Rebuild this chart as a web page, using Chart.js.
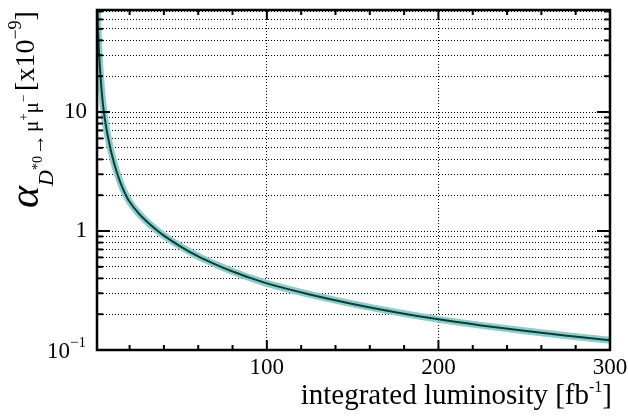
<!DOCTYPE html>
<html>
<head>
<meta charset="utf-8">
<script src="https://cdn.jsdelivr.net/npm/chart.js@4.4.1/dist/chart.umd.min.js"></script>
<style>
  html, body { margin: 0; padding: 0; background: #fff; }
  #wrap { width: 628px; height: 419px; }
</style>
</head>
<body>
<div id="wrap"><canvas id="chart" width="628" height="419"></canvas></div>
<script>
//------data
const lumi = [1, 1.5, 2, 3, 4, 5, 6, 7, 8, 9, 10, 11, 12, 14, 16, 18, 20, 25, 30, 35, 40, 50, 60, 70, 80, 90, 100, 125, 150, 175, 200, 225, 250, 275, 300];
const alphaUL = [90, 53, 35.5, 20.5, 13.5, 10, 8.0, 6.6, 5.6, 4.8, 4.2, 3.7, 3.3, 2.7, 2.28, 1.98, 1.76, 1.42, 1.2, 1.04, 0.915, 0.737, 0.613, 0.525, 0.457, 0.405, 0.363, 0.293, 0.244, 0.208, 0.181, 0.161, 0.145, 0.132, 0.121];

const xMajor = [100, 200, 300];
const xMinor = [20, 40, 60, 80, 120, 140, 160, 180, 220, 240, 260, 280];
const yMajor = [1, 10];
const yMinor = [0.2, 0.3, 0.4, 0.5, 0.6, 0.7, 0.8, 0.9, 2, 3, 4, 5, 6, 7, 8, 9, 20, 30, 40, 50, 60, 70];
const yLabels = [1, 10];

const SERIF = '"Liberation Serif", "DejaVu Serif", serif';

const points = lumi.map((x, i) => ({ x: x, y: alphaUL[i] }));

//------text pieces drawn along a baseline
function drawRuns(ctx, runs, x0, y0, rotate) {
    ctx.save();
    ctx.translate(x0, y0);
    if (rotate) ctx.rotate(-Math.PI / 2);
    ctx.fillStyle = '#000';
    ctx.textBaseline = 'alphabetic';
    ctx.textAlign = 'left';
    let cx = 0;
    runs.forEach(r => {
        ctx.font = r.font;
        ctx.fillText(r.t, cx, r.dy);
        cx += ctx.measureText(r.t).width + (r.gap || 0);
    });
    ctx.restore();
}
function runsWidth(ctx, runs) {
    let w = 0;
    runs.forEach(r => { ctx.font = r.font; w += ctx.measureText(r.t).width + (r.gap || 0); });
    return w;
}

const framePlugin = {
    id: 'frame',
    afterDraw(chart) {
        const ctx = chart.ctx;
        const a = chart.chartArea;
        const xs = chart.scales.x, ys = chart.scales.y;
        ctx.save();
        ctx.strokeStyle = '#000';
        ctx.lineWidth = 2;
        // ticks inside the frame
        const tick = (x1, y1, x2, y2) => { ctx.beginPath(); ctx.moveTo(x1, y1); ctx.lineTo(x2, y2); ctx.stroke(); };
        xMajor.forEach(v => { const p = xs.getPixelForValue(v); tick(p, a.bottom, p, a.bottom - 10); tick(p, a.top, p, a.top + 10); });
        xMinor.forEach(v => { const p = xs.getPixelForValue(v); tick(p, a.bottom, p, a.bottom - 5); tick(p, a.top, p, a.top + 5); });
        yMajor.forEach(v => { const p = ys.getPixelForValue(v); tick(a.left, p, a.left + 13, p); tick(a.right, p, a.right - 13, p); });
        yMinor.forEach(v => { const p = ys.getPixelForValue(v); tick(a.left, p, a.left + 6, p); tick(a.right, p, a.right - 6, p); });
        ctx.lineWidth = 2.5;
        ctx.strokeRect(a.left, a.top, a.right - a.left, a.bottom - a.top);
        ctx.restore();

        // 10^-1 label at the bottom of the y axis
        const p01 = ys.getPixelForValue(0.1);
        const lab = [
            { t: '10', font: '23px ' + SERIF, dy: 0 },
            { t: '\u22121', font: '15px ' + SERIF, dy: -11 }
        ];
        drawRuns(ctx, lab, a.left - 11 - runsWidth(ctx, lab), p01 + 8, false);

        // x title
        const xt = [
            { t: 'integrated luminosity [fb', font: '29px ' + SERIF, dy: 0 },
            { t: '-1', font: '16px ' + SERIF, dy: -12 },
            { t: ']', font: '29px ' + SERIF, dy: 0 }
        ];
        drawRuns(ctx, xt, a.right + 2 - runsWidth(ctx, xt), 404, false);

        // y title, rotated
        const yt = [
            { t: '\u03b1', font: 'italic 42px ' + SERIF, dy: 0 },
            { t: 'D', font: 'italic 22px ' + SERIF, dy: 15 },
            { t: '*0', font: '14px ' + SERIF, dy: 4, gap: 1 },
            { t: '\u2192', font: '21px ' + SERIF, dy: 6, gap: 2 },
            { t: '\u03bc', font: '21px ' + SERIF, dy: 0 },
            { t: '+', font: '13px ' + SERIF, dy: -10 },
            { t: '\u03bc', font: '21px ' + SERIF, dy: 0 },
            { t: '\u2212', font: '13px ' + SERIF, dy: -10, gap: 4 },
            { t: '[x10', font: '28px ' + SERIF, dy: -4 },
            { t: '\u22129', font: '18px ' + SERIF, dy: -17 },
            { t: ']', font: '28px ' + SERIF, dy: -4 }
        ];
        drawRuns(ctx, yt, 38, 208, true);
    }
};

const config = {
    type: 'line',
    data: {
        datasets: [{
            data: points,
            borderColor: '#0b3b3a',
            borderWidth: 2,
            pointRadius: 0,
            cubicInterpolationMode: 'monotone',
            order: 0
        }, {
            data: points,
            borderColor: 'rgb(143,205,201)',
            borderWidth: 7,
            pointRadius: 0,
            cubicInterpolationMode: 'monotone',
            order: 1
        }]
    },
    options: {
        responsive: false,
        animation: false,
        events: [],
        layout: {
            padding: { top: 10, right: 18, left: 0, bottom: 0 }
        },
        plugins: {
            legend: { display: false },
            tooltip: { enabled: false }
        },
        scales: {
            x: {
                type: 'linear',
                min: 1,
                max: 300,
                afterBuildTicks: s => { s.ticks = xMajor.map(v => ({ value: v })); },
                afterFit: s => { s.height = 69; s.paddingLeft = 0; s.paddingRight = 0; },
                grid: {
                    color: c => (c.tick && c.tick.value < 300) ? '#000' : 'rgba(0,0,0,0)',
                    lineWidth: 1,
                    drawTicks: false
                },
                border: { display: false, dash: [1, 2] },
                ticks: {
                    padding: 4,
                    color: '#000',
                    maxRotation: 0,
                    font: { family: SERIF, size: 23 },
                    callback: v => String(v)
                }
            },
            y: {
                type: 'logarithmic',
                min: 0.1,
                max: 72,
                afterBuildTicks: s => { s.ticks = yMinor.concat(yMajor).sort((p, q) => p - q).map(v => ({ value: v })); },
                afterFit: s => { s.width = 97; s.paddingTop = 0; s.paddingBottom = 0; },
                grid: {
                    color: '#000',
                    lineWidth: 1,
                    drawTicks: false
                },
                border: { display: false, dash: [1, 2] },
                ticks: {
                    padding: 10,
                    color: '#000',
                    autoSkip: false,
                    font: { family: SERIF, size: 23 },
                    callback: v => yLabels.includes(v) ? String(v) : ''
                }
            }
        }
    },
    plugins: [framePlugin]
};

var chart = document.getElementById('chart');
var myChart = new Chart(chart, config);
</script>
</body>
</html>
